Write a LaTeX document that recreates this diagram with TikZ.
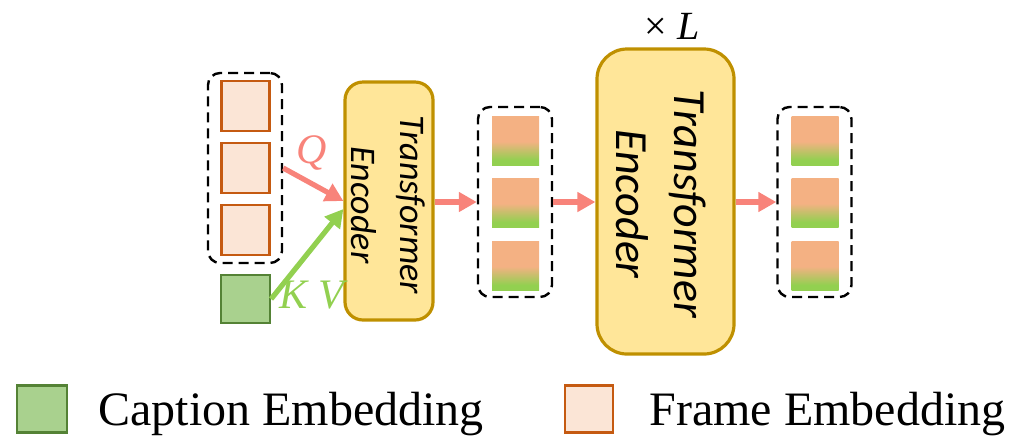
\documentclass[tikz,border=0pt]{standalone}
\usepackage{fontspec}
\setmainfont{Liberation Serif}
\newfontfamily\encfont{Carlito}
\usetikzlibrary{arrows.meta}
\definecolor{frameFill}{HTML}{FBE5D6}
\definecolor{frameDraw}{HTML}{C55A11}
\definecolor{capFill}{HTML}{A9D18E}
\definecolor{capDraw}{HTML}{548235}
\definecolor{encFill}{HTML}{FFE699}
\definecolor{encDraw}{HTML}{BF9000}
\definecolor{salmon}{HTML}{F8837A}
\definecolor{lgreen}{HTML}{92D050}
\definecolor{gradOrange}{HTML}{F4B183}
\definecolor{gradGreen}{HTML}{92D050}
\pgfdeclareverticalshading{embgrad}{100bp}{color(0bp)=(gradGreen); color(25bp)=(gradGreen); color(30bp)=(gradGreen); color(49bp)=(gradOrange); color(100bp)=(gradOrange)}
\tikzset{
  grp/.style={draw=black, line width=1.2pt, dash pattern=on 5pt off 3pt, rounded corners=6pt, minimum width=37pt, minimum height=95pt, inner sep=0pt},
  frm/.style={draw=frameDraw, fill=frameFill, line width=1.1pt, minimum width=24pt, minimum height=25pt, inner sep=0pt},
  capbox/.style={draw=capDraw, fill=capFill, line width=1.1pt, minimum width=24.5pt, minimum height=24pt, inner sep=0pt},
  mix/.style={shading=embgrad, minimum width=23.5pt, minimum height=24.5pt, inner sep=0pt},
  enc/.style={draw=encDraw, fill=encFill, line width=1.6pt, inner sep=0pt},
  arr/.style={line width=2.6pt, -{Triangle[length=9pt,width=9.5pt]}},
  lbl/.style={font=\fontsize{24}{28}\selectfont, anchor=base west, inner sep=0pt},
}
\begin{document}
\begin{tikzpicture}[x=0.5pt, y=-0.5pt]
\useasboundingbox (0,0) rectangle (1015,436);
% left group
\node[grp] (g1) at (245,168) {};
\node[frm] (f1) at (245.5,106) {};
\node[frm] (f2) at (245.5,168) {};
\node[frm] (f3) at (245.5,230) {};
\node[capbox] (cap) at (245.5,299) {};
% small encoder
\node[enc, rounded corners=9pt, minimum width=44pt, minimum height=119pt] (e1) at (389,201) {};
\node[rotate=-90, align=center, font=\encfont\itshape\fontsize{18}{24.5}\selectfont, inner sep=0pt] (t1) at (388,205) {Transformer\\Encoder};
% Q / KV arrows
\draw[arr, lgreen] (cap.east) -- ([yshift=-4pt]e1.west);
\draw[arr, salmon] (g1.east |- f2.center) -- (e1.west);
\node[text=salmon, font=\itshape\fontsize{21}{24}\selectfont, inner sep=0pt] (q) at (312,153) {Q};
\node[text=lgreen, font=\itshape\fontsize{21}{24}\selectfont, inner sep=0pt] (kv) at (312,295) {K V};
% middle group
\node[grp] (g2) at (515,202) {};
\node[mix] (m1) at (515.5,140.5) {};
\node[mix] (m2) at (515.5,202.5) {};
\node[mix] (m3) at (515.5,265.5) {};
% big encoder
\node[enc, rounded corners=15pt, minimum width=68.5pt, minimum height=152.5pt] (e2) at (665.5,201.5) {};
\node[rotate=-90, align=center, font=\encfont\itshape\fontsize{23}{29}\selectfont, inner sep=0pt] (t2) at (661,204) {Transformer\\Encoder};
\node[font=\fontsize{20}{24}\selectfont, inner sep=0pt] (xl) at (672,26) {× \textit{L}};
% right group
\node[grp] (g3) at (814.5,202) {};
\node[mix] (n1) at (815,140.5) {};
\node[mix] (n2) at (815,202.5) {};
\node[mix] (n3) at (815,265.5) {};
% arrows between stages
\draw[arr, salmon] (e1.east |- g2.west) -- (g2.west);
\draw[arr, salmon] (g2.east) -- (e2.west |- g2.east);
\draw[arr, salmon] (e2.east |- g3.west) -- (g3.west);
% legend
\node[capbox, minimum width=25pt, minimum height=23.5pt] (lc) at (42,409) {};
\node[lbl] (lct) at (98,425) {Caption Embedding};
\node[frm, minimum width=24pt, minimum height=23.5pt] (lf) at (589,409) {};
\node[lbl] (lft) at (649,425) {Frame Embedding};
\end{tikzpicture}
\end{document}
